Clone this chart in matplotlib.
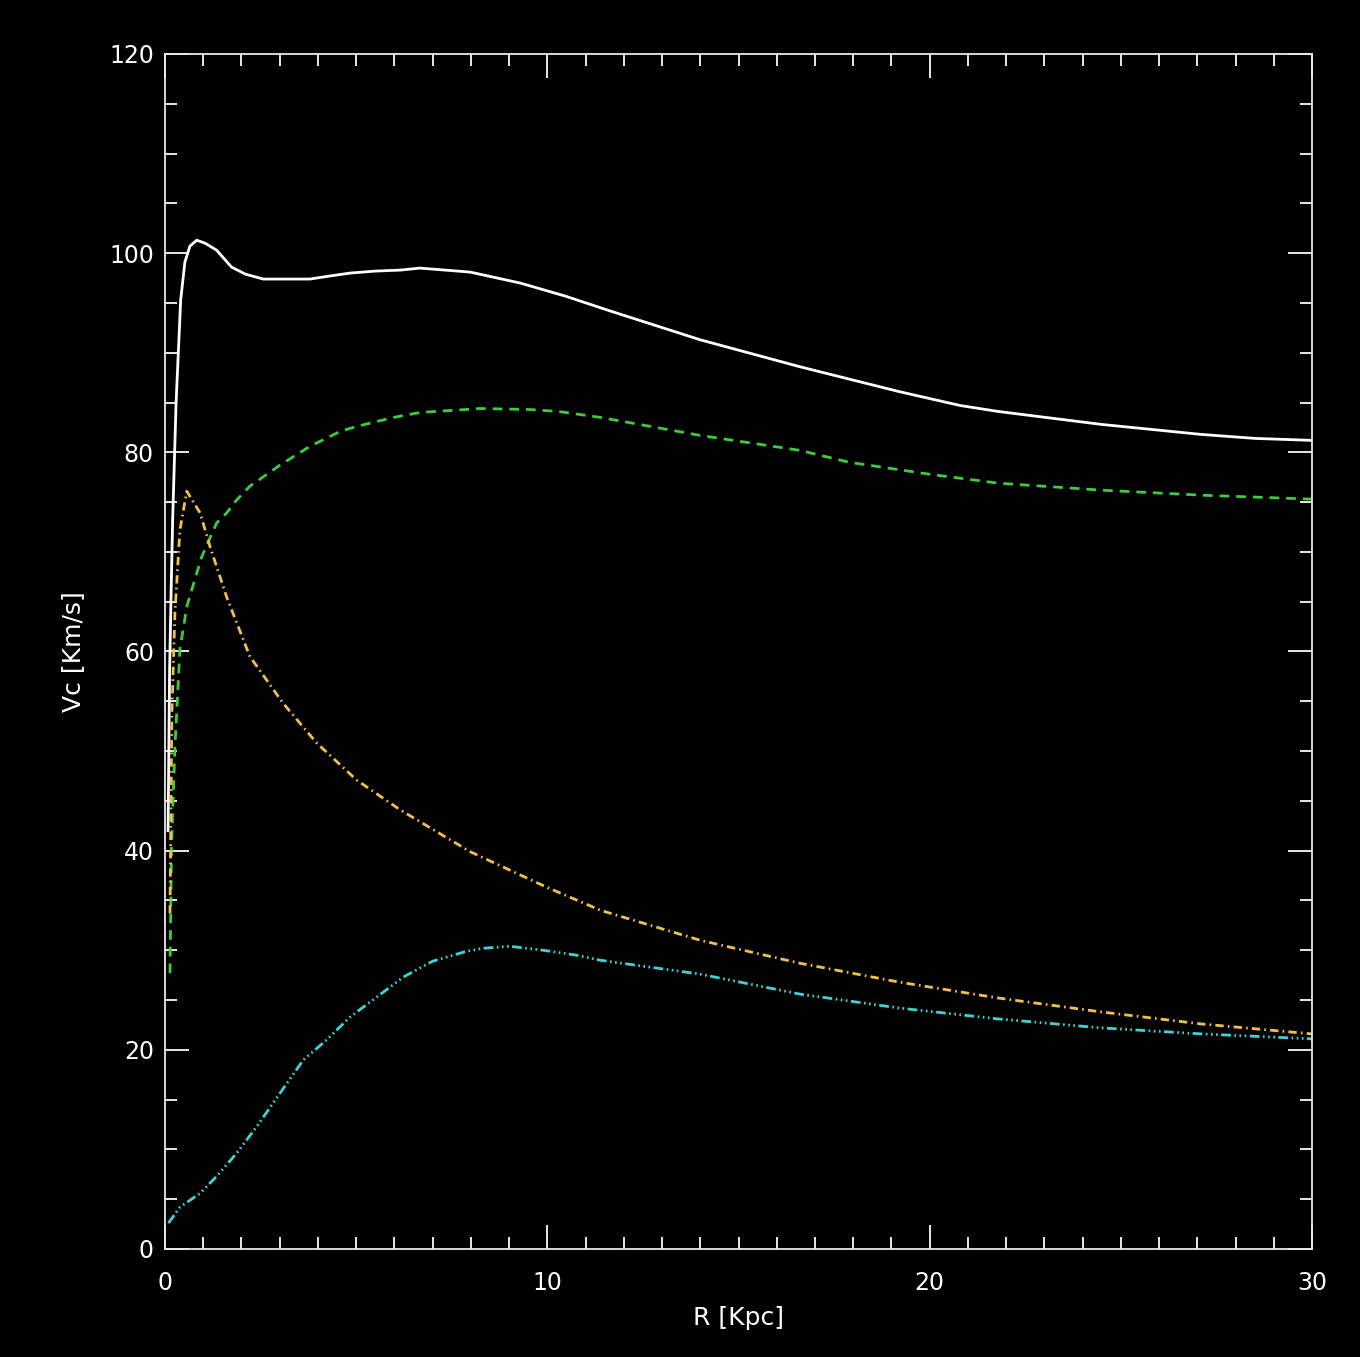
import numpy as np
import matplotlib
matplotlib.use("Agg")
from matplotlib import pyplot as plt
from matplotlib.ticker import MultipleLocator

# Total rotation curve (white, solid)
r_total = [0.08, 0.12, 0.16, 0.2, 0.29, 0.41, 0.52, 0.65, 0.83, 1.05, 1.35, 1.74, 2.1, 2.57,
           3.2, 3.79, 4.3, 4.84, 5.5, 6.15, 6.67, 7.98, 9.29, 10.46, 11.64, 14.0,
           16.6, 19.2, 20.8, 21.8, 24.5, 27.1, 28.5, 30.0]
v_total = [42.0, 58.0, 66.0, 73.2, 85.0, 95.3, 99.1, 100.7, 101.3, 101.0, 100.3, 98.6, 97.9, 97.4,
           97.4, 97.4, 97.7, 98.0, 98.2, 98.3, 98.5, 98.1, 97.0, 95.7, 94.2, 91.3,
           88.6, 86.1, 84.7, 84.1, 82.8, 81.8, 81.4, 81.2]

# Dark halo (green, dashed)
r_halo = [0.13, 0.17, 0.26, 0.39, 0.57, 0.7, 0.96, 1.35, 1.61, 1.87, 2.22, 3.0, 3.79,
          4.58, 5.01, 5.97, 6.67, 8.24, 9.55, 10.3, 11.4, 14.0, 16.6, 17.9, 20.0,
          21.8, 24.5, 27.1, 30.0]
v_halo = [27.7, 40.4, 50.4, 60.2, 64.5, 66.2, 69.5, 72.9, 73.9, 75.2, 76.6, 78.7, 80.6,
          82.1, 82.6, 83.5, 84.0, 84.4, 84.3, 84.1, 83.5, 81.7, 80.2, 79.0, 77.8,
          76.9, 76.2, 75.7, 75.3]

# Stellar component (yellow, dash-dot)
r_star = [0.13, 0.18, 0.26, 0.39, 0.57, 0.92, 1.18, 1.61, 2.22, 3.09, 3.97, 5.01, 6.15,
          7.98, 10.0, 11.4, 14.0, 16.6, 19.2, 21.8, 24.5, 27.1, 30.0]
v_star = [33.7, 53.8, 63.9, 72.2, 76.1, 73.9, 70.5, 65.5, 59.5, 54.8, 50.8, 47.1, 44.1,
          39.9, 36.3, 34.0, 31.0, 28.7, 26.8, 25.2, 23.8, 22.6, 21.6]

# Gas component (cyan, dash-dot-dot-dot)
r_gas = [0.09, 0.39, 0.92, 1.35, 1.87, 2.4, 3.0, 3.62, 4.23, 4.84, 5.54, 6.23, 7.0,
         7.89, 8.32, 9.02, 9.89, 10.77, 11.38, 14.0, 16.6, 19.2, 21.8, 24.5, 27.1, 30.0]
v_gas = [2.6, 4.2, 5.6, 7.3, 9.6, 12.3, 15.6, 19.0, 21.0, 23.3, 25.3, 27.3, 28.9,
         29.9, 30.2, 30.4, 30.0, 29.5, 29.0, 27.6, 25.6, 24.2, 23.1, 22.2, 21.6, 21.1]

plt.rcParams["lines.scale_dashes"] = False
fg = "#e8e8e8"

fig = plt.figure(figsize=(13.6, 13.57), dpi=100, facecolor="black")
ax = fig.add_axes([165 / 1360, 1 - 1249 / 1357, (1312 - 165) / 1360, (1249 - 54) / 1357])
ax.set_facecolor("black")

ax.plot(r_total, v_total, color="white", lw=2.0, linestyle="-")
ax.plot(r_halo, v_halo, color="#3ccc3c", lw=2.0, linestyle=(0, (7, 5)))
ax.plot(r_star, v_star, color="#f2c04a", lw=2.0, linestyle=(0, (6, 3, 1.2, 3)))
ax.plot(r_gas, v_gas, color="#40d2d6", lw=2.0,
        linestyle=(0, (7, 2.5, 1.2, 2.5, 1.2, 2.5, 1.2, 2.5)))

ax.set_xlim(0, 30)
ax.set_ylim(0, 120)
ax.xaxis.set_major_locator(MultipleLocator(10))
ax.xaxis.set_minor_locator(MultipleLocator(1))
ax.yaxis.set_major_locator(MultipleLocator(20))
ax.yaxis.set_minor_locator(MultipleLocator(5))

for side in ax.spines.values():
    side.set_color(fg)
    side.set_linewidth(1.3)

ax.tick_params(which="both", direction="in", top=True, right=True, colors=fg, width=1.4)
ax.tick_params(which="major", length=17, labelsize=17, labelcolor="white")
ax.tick_params(which="minor", length=8.5)
ax.tick_params(axis="x", which="major", pad=16)
ax.tick_params(axis="y", which="major", pad=8)

ax.set_xlabel("R [Kpc]", color="white", fontsize=18, labelpad=8)
ax.set_ylabel("Vc [Km/s]", color="white", fontsize=18, labelpad=17)

fig.savefig("out.png", dpi=100, facecolor="black")
